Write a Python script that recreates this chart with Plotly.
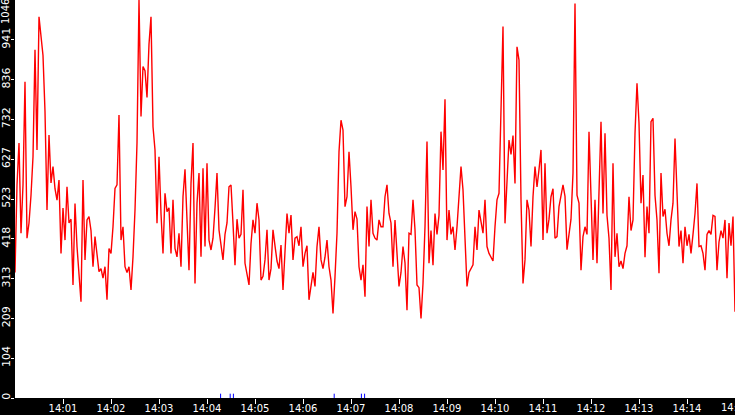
import pandas as pd
import plotly.graph_objects as go

# signal samples, one every 2.5 s from 14:00:00
chunk1 = [330, 560, 670, 433, 560, 831, 420, 460, 533, 634, 915, 652, 1002, 945, 900,
          753, 494, 691, 565, 608, 550, 520, 573, 380, 499, 415, 555, 460, 470, 297,
          511, 398, 336, 253, 573, 363, 468, 477, 440, 345, 424, 380, 332, 340, 315]
chunk2 = [345, 258, 393, 380, 450, 551, 560, 744, 415, 450, 345, 330, 345, 284, 371,
          494, 670, 1046, 740, 871, 860, 790, 930, 1002, 713, 652, 459, 634, 485, 380,
          538, 490, 500, 380, 521, 393, 371, 433, 345, 529, 601, 450, 336, 564, 670]
chunk3 = [301, 512, 591, 371, 604, 398, 617, 415, 389, 420, 499, 591, 442, 400, 363,
          430, 460, 555, 560, 459, 349, 470, 420, 430, 547, 354, 328, 297, 406, 468,
          433, 512, 468, 310, 320, 363, 442, 310, 340, 442, 400, 360, 340, 402, 284]
chunk4 = [400, 485, 433, 481, 363, 420, 424, 400, 450, 345, 380, 400, 258, 293, 330,
          293, 398, 450, 363, 340, 370, 415, 345, 310, 222, 319, 433, 647, 730, 704,
          503, 529, 647, 555, 442, 490, 470, 345, 310, 350, 266, 503, 398, 521, 433]
chunk5 = [420, 415, 468, 450, 450, 529, 560, 485, 460, 345, 468, 380, 293, 330, 398,
          355, 231, 433, 430, 521, 442, 297, 290, 209, 301, 450, 674, 354, 440, 349,
          485, 430, 480, 700, 599, 785, 415, 494, 430, 450, 389, 450, 520, 608, 547]
chunk6 = [400, 293, 330, 340, 350, 450, 389, 494, 460, 433, 521, 398, 380, 370, 360,
          450, 521, 538, 730, 976, 459, 573, 678, 640, 690, 564, 923, 888, 521, 301,
          363, 521, 494, 398, 529, 608, 555, 600, 652, 415, 617, 433, 470, 529, 550]
chunk7 = [420, 424, 503, 529, 560, 530, 390, 430, 470, 591, 1037, 533, 512, 336, 424,
          450, 430, 700, 521, 363, 521, 354, 542, 726, 485, 696, 480, 420, 284, 617,
          371, 433, 345, 360, 340, 380, 400, 529, 440, 468, 696, 827, 722, 512, 586]
chunk8 = [370, 503, 433, 726, 735, 533, 468, 328, 591, 477, 496, 433, 400, 468, 512,
          682, 547, 398, 440, 354, 450, 400, 430, 380, 430, 485, 564, 398, 400, 380,
          336, 430, 440, 430, 480, 477, 336, 410, 440, 420, 468, 315, 460, 400, 477, 227]

values = chunk1 + chunk2 + chunk3 + chunk4 + chunk5 + chunk6 + chunk7 + chunk8
times = pd.date_range("2024-01-01 14:00:00", periods=len(values), freq="2500ms")

event_times = ["14:04:17", "14:04:29", "14:04:33", "14:06:39", "14:07:13", "14:07:17"]
events = pd.to_datetime(["2024-01-01 " + t for t in event_times])

xtick_labels = ["14:01", "14:02", "14:03", "14:04", "14:05", "14:06", "14:07", "14:08",
                "14:09", "14:10", "14:11", "14:12", "14:13", "14:14", "14:15"]
xtick_vals = pd.to_datetime(["2024-01-01 " + t for t in xtick_labels])

y_max = 1046
ytick_labels = ["0", "104", "209", "313", "418", "523", "627", "732", "836", "941", "1046"]
ytick_vals = [i * y_max / 10 for i in range(len(ytick_labels))]

fig = go.Figure()
fig.add_trace(go.Scatter(x=times, y=values, mode="lines",
                         line=dict(color="#ff0000", width=1.4), hoverinfo="skip"))
fig.add_trace(go.Scatter(x=events, y=[4] * len(events), mode="markers",
                         marker=dict(symbol="line-ns", size=4, line=dict(color="#0000ff", width=1)),
                         hoverinfo="skip"))

fig.update_layout(
    width=735, height=415,
    margin=dict(l=15, r=0, t=0, b=17, autoexpand=False),
    paper_bgcolor="black", plot_bgcolor="white",
    showlegend=False,
    font=dict(family="DejaVu Sans", size=11, color="white"),
)
fig.update_xaxes(
    type="date", automargin=False,
    range=["2024-01-01 14:00:00", "2024-01-01 14:15:00"],
    tickvals=xtick_vals, ticktext=xtick_labels[:-1] + [""],
    ticks="outside", ticklen=5, tickcolor="white", tickwidth=1,
    ticklabelstandoff=-4,
    showgrid=False, zeroline=False, showline=False,
    tickfont=dict(size=10, color="white"),
)
fig.update_yaxes(
    range=[0, y_max], automargin=False,
    tickvals=ytick_vals[:-1], ticktext=ytick_labels[:-1], tickangle=-90,
    ticks="outside", ticklen=3, tickcolor="white", tickwidth=1,
    ticklabelstandoff=-3,
    showgrid=False, zeroline=False, showline=False,
    tickfont=dict(size=11, color="white"),
)
# top label sits at the top edge instead of centred on its tick
fig.add_annotation(text=ytick_labels[-1], textangle=-90, showarrow=False,
                   xref="paper", yref="paper", x=0, y=1, xanchor="right", yanchor="top",
                   xshift=-2, yshift=3, font=dict(size=10, color="white"))
# last time label runs off the right edge, as in the original
fig.add_annotation(text=xtick_labels[-1], showarrow=False,
                   xref="paper", yref="paper", x=1, y=0, xanchor="center", yanchor="top",
                   yshift=-2, font=dict(size=10, color="white"))

# drop the browser's default page margin so the figure fills the window
fig.write_html("out.html", config={"displayModeBar": False},
               post_script="document.body.style.margin = '0px';")
